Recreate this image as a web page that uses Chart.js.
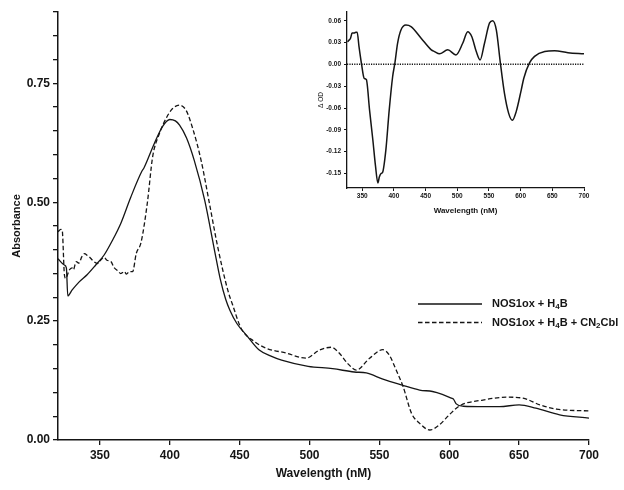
<!DOCTYPE html>
<html>
<head>
<meta charset="utf-8">
<script src="https://cdn.jsdelivr.net/npm/chart.js@4.4.0/dist/chart.umd.min.js"></script>
<style>
  body { margin: 0; background: #fff; }
  #wrap { position: relative; width: 624px; height: 490px; }
  #main-chart { position: absolute; left: 0; top: 0; }
  #inset-chart { position: absolute; left: 290px; top: 0; pointer-events: none; }
</style>
</head>
<body>
<div id="wrap">
  <canvas id="main-chart" width="624" height="490"></canvas>
  <canvas id="inset-chart" width="334" height="230"></canvas>
</div>
<script>
// NOS1ox + H4B (solid)
const solidNm  = [320, 324.5, 326, 327, 330, 335, 341, 347, 353, 359, 365, 372, 380, 381.5, 389, 395, 400, 404, 407, 412, 417.5, 425, 432, 436, 440, 443, 448, 454.7, 464, 472, 480, 499, 516.5, 532, 540.6, 552.5, 565.7, 578.8, 588, 595, 601.5, 603, 605, 610, 625, 636, 650, 662, 679, 700];
const solidAbs = [0.381, 0.368, 0.362, 0.303, 0.315, 0.332, 0.348, 0.368, 0.389, 0.42, 0.456, 0.51, 0.565, 0.572, 0.624, 0.66, 0.674, 0.671, 0.662, 0.635, 0.588, 0.504, 0.399, 0.34, 0.296, 0.273, 0.245, 0.221, 0.189, 0.177, 0.168, 0.155, 0.150, 0.143, 0.141, 0.128, 0.116, 0.105, 0.102, 0.096, 0.088, 0.086, 0.076, 0.071, 0.070, 0.070, 0.074, 0.067, 0.053, 0.046];

// NOS1ox + H4B + CN2Cbl (dashed)
const dashedNm  = [320, 322, 323, 324.6, 325.5, 328, 330, 331, 333, 335, 337, 339, 341, 342.5, 345, 348.4, 351, 353, 355, 358, 360, 362.7, 365, 367.5, 369, 371, 373.4, 376, 379.4, 384, 387.7, 392.5, 397.3, 402, 407, 411.7, 416.4, 422.4, 428.4, 434.3, 441.5, 445, 451, 460.6, 469, 483, 497.6, 507, 515.5, 521.5, 527, 533.5, 543, 552.5, 557, 562, 567, 573, 578.8, 586, 593, 600, 607.5, 624, 640.8, 652.8, 664.8, 676.7, 700];
const dashedAbs = [0.438, 0.443, 0.441, 0.347, 0.34, 0.357, 0.362, 0.358, 0.375, 0.372, 0.385, 0.392, 0.388, 0.385, 0.377, 0.371, 0.38, 0.384, 0.378, 0.375, 0.363, 0.356, 0.35, 0.354, 0.349, 0.354, 0.354, 0.392, 0.415, 0.5, 0.595, 0.644, 0.676, 0.697, 0.704, 0.693, 0.655, 0.588, 0.497, 0.406, 0.315, 0.284, 0.235, 0.207, 0.193, 0.183, 0.172, 0.189, 0.195, 0.182, 0.162, 0.147, 0.172, 0.19, 0.179, 0.147, 0.112, 0.056, 0.035, 0.021, 0.032, 0.053, 0.072, 0.084, 0.090, 0.088, 0.074, 0.065, 0.061];

// inset: difference spectrum
const insetNm  = [326.7, 329, 331.6, 334, 337, 340, 342, 345, 349, 353, 356.6, 361.6, 366.8, 371, 374.7, 377, 380, 382, 387.3, 392.6, 398, 401.6, 405.8, 411, 419, 427, 443, 459, 464, 472, 485, 498, 508.6, 516.5, 523, 530, 536, 543, 551, 556, 561.7, 568, 574.5, 581, 587, 593, 601, 605, 614, 622, 638, 653.6, 674.7, 700];
const insetDOD = [0.031, 0.033, 0.036, 0.043, 0.043, 0.044, 0.044, 0.024, 0.0, -0.019, -0.021, -0.063, -0.104, -0.14, -0.163, -0.155, -0.150, -0.149, -0.118, -0.063, -0.017, 0.002, 0.029, 0.047, 0.054, 0.052, 0.036, 0.020, 0.0176, 0.0145, 0.020, 0.013, 0.029, 0.045, 0.038, 0.0176, 0.006, 0.029, 0.057, 0.060, 0.047, 0.002, -0.040, -0.067, -0.077, -0.065, -0.035, -0.019, 0.002, 0.011, 0.0176, 0.0186, 0.016, 0.0145];
const zeroNm  = [326, 700];
const zeroDOD = [0, 0];

// ticks
const xTicks      = [350, 400, 450, 500, 550, 600, 650, 700];
const yTicks      = [0, 0.05, 0.1, 0.15, 0.2, 0.25, 0.3, 0.35, 0.4, 0.45, 0.5, 0.55, 0.6, 0.65, 0.7, 0.75, 0.8, 0.85, 0.9];
const yLabelTicks = [0, 0.25, 0.5, 0.75];
const insetYTicks = [-0.15, -0.12, -0.09, -0.06, -0.03, 0, 0.03, 0.06];

const legendLabels = ['NOS1ox + H₄B', 'NOS1ox + H₄B + CN₂Cbl'];

const FONT = '"Liberation Sans", Arial, sans-serif';
const INK = '#151515';

const pts = (xs, ys) => xs.map((x, i) => ({ x: x, y: ys[i] }));
const setTicks = values => scale => { scale.ticks = values.map(v => ({ value: v })); };

// draws the legend inside the plot, with subscript digits
const subs = { '₀': '0', '₁': '1', '₂': '2', '₃': '3', '₄': '4', '₅': '5', '₆': '6', '₇': '7', '₈': '8', '₉': '9' };
const insideLegend = {
  id: 'insideLegend',
  afterDraw(chart) {
    const ctx = chart.ctx;
    chart.data.datasets.forEach((ds, i) => {
      const y = 304 + i * 18.5;
      ctx.save();
      ctx.strokeStyle = ds.borderColor;
      ctx.lineWidth = ds.borderWidth;
      ctx.setLineDash(ds.borderDash || []);
      ctx.beginPath();
      ctx.moveTo(418, y);
      ctx.lineTo(482, y);
      ctx.stroke();
      ctx.setLineDash([]);
      ctx.fillStyle = INK;
      ctx.textBaseline = 'middle';
      let x = 492;
      for (const ch of ds.label) {
        if (subs[ch]) {
          ctx.font = 'bold 8px ' + FONT;
          ctx.fillText(subs[ch], x, y + 3);
          x += ctx.measureText(subs[ch]).width;
        } else {
          ctx.font = 'bold 11px ' + FONT;
          ctx.fillText(ch, x, y);
          x += ctx.measureText(ch).width;
        }
      }
      ctx.restore();
    });
  }
};

new Chart(document.getElementById('main-chart').getContext('2d'), {
  type: 'line',
  data: {
    datasets: [{
      label: legendLabels[0],
      data: pts(solidNm, solidAbs),
      borderColor: INK,
      borderWidth: 1.3,
      pointRadius: 0,
      cubicInterpolationMode: 'monotone'
    }, {
      label: legendLabels[1],
      data: pts(dashedNm, dashedAbs),
      borderColor: INK,
      borderWidth: 1.3,
      borderDash: [4.5, 2.5],
      pointRadius: 0,
      cubicInterpolationMode: 'monotone'
    }]
  },
  options: {
    responsive: false,
    animation: false,
    layout: { padding: { left: 6, top: 12, right: 35, bottom: 5 } },
    plugins: { legend: { display: false }, tooltip: { enabled: false } },
    scales: {
      x: {
        type: 'linear',
        min: 320,
        max: 700,
        afterBuildTicks: setTicks(xTicks),
        afterFit: s => { s.height = 45; },
        grid: { drawOnChartArea: false, drawTicks: true, tickLength: 5, color: INK, lineWidth: 1.3 },
        border: { color: INK, width: 1.5 },
        ticks: { color: INK, font: { family: FONT, size: 12, weight: 'bold' }, padding: 3, maxRotation: 0 },
        title: { display: true, text: 'Wavelength (nM)', color: INK, font: { family: FONT, size: 12, weight: 'bold' }, padding: { top: 4, bottom: 4 } }
      },
      y: {
        min: 0,
        max: 0.9,
        afterBuildTicks: setTicks(yTicks),
        afterFit: s => { s.width = 52; },
        grid: { drawOnChartArea: false, drawTicks: true, tickLength: 5, color: INK, lineWidth: 1.3 },
        border: { color: INK, width: 1.5 },
        ticks: {
          color: INK,
          font: { family: FONT, size: 12, weight: 'bold' },
          padding: 3,
          callback: v => yLabelTicks.some(t => Math.abs(t - v) < 1e-6) ? v.toFixed(2) : ''
        },
        title: { display: true, text: 'Absorbance', color: INK, font: { family: FONT, size: 11, weight: 'bold' }, padding: { top: 4, bottom: 4 } }
      }
    }
  },
  plugins: [insideLegend]
});

new Chart(document.getElementById('inset-chart').getContext('2d'), {
  type: 'line',
  data: {
    datasets: [{
      data: pts(insetNm, insetDOD),
      borderColor: INK,
      borderWidth: 1.5,
      pointRadius: 0,
      cubicInterpolationMode: 'monotone'
    }, {
      data: pts(zeroNm, zeroDOD),
      borderColor: INK,
      borderWidth: 1.5,
      borderDash: [1.2, 1.2],
      pointRadius: 0
    }]
  },
  options: {
    responsive: false,
    animation: false,
    layout: { padding: { left: 23, top: 12, right: 40, bottom: 12 } },
    plugins: { legend: { display: false }, tooltip: { enabled: false } },
    scales: {
      x: {
        type: 'linear',
        min: 326,
        max: 700,
        afterBuildTicks: setTicks(xTicks),
        afterFit: s => { s.height = 30; },
        grid: { drawOnChartArea: false, drawTicks: true, tickLength: 3, color: INK, lineWidth: 1 },
        border: { color: INK, width: 1.3 },
        ticks: { color: INK, font: { family: FONT, size: 6.5, weight: 'bold' }, padding: 1, maxRotation: 0 },
        title: { display: true, text: 'Wavelength (nM)', color: INK, font: { family: FONT, size: 8, weight: 'bold' }, padding: { top: 6, bottom: 2 } }
      },
      y: {
        min: -0.17,
        max: 0.072,
        afterBuildTicks: setTicks(insetYTicks),
        afterFit: s => { s.width = 34; },
        grid: { drawOnChartArea: false, drawTicks: true, tickLength: 3, color: INK, lineWidth: 1 },
        border: { color: INK, width: 1.3 },
        ticks: { color: INK, font: { family: FONT, size: 6.5, weight: 'bold' }, padding: 3, callback: v => v.toFixed(2) },
        title: { display: true, text: 'Δ OD', color: INK, font: { family: FONT, size: 6.5 }, padding: { top: 4, bottom: 4 } }
      }
    }
  }
});
</script>
</body>
</html>
